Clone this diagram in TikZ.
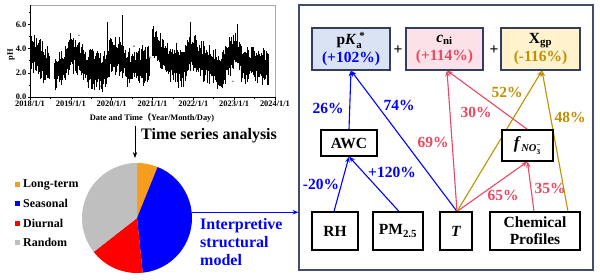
\documentclass[tikz,border=0pt]{standalone}
\usepackage{amsmath}
\usepackage{fontspec}
\setmainfont{Liberation Serif}
\newfontfamily\cjk{Noto Sans CJK SC}
\usetikzlibrary{arrows.meta,backgrounds,calc}
\definecolor{isbl}{RGB}{0,0,255}
\definecolor{isrd}{RGB}{232,72,98}
\definecolor{isgd}{RGB}{191,144,0}
\definecolor{bxbl}{RGB}{218,227,243}
\definecolor{bxrd}{RGB}{252,226,232}
\definecolor{bxgd}{RGB}{255,242,204}
\definecolor{bxln}{RGB}{50,62,92}
\definecolor{frln}{RGB}{64,78,108}
\definecolor{pieor}{RGB}{247,157,30}
\definecolor{piebl}{RGB}{0,0,255}
\definecolor{piered}{RGB}{255,0,0}
\definecolor{piegr}{RGB}{191,191,191}
\begin{document}
\begin{tikzpicture}[x=1pt,y=-1pt,
  bigfont/.style={font=\fontsize{15.5}{18}\selectfont\bfseries},
  topbox/.style={draw=bxln, line width=1.1pt, minimum height=42, inner sep=0pt, align=center, bigfont},
  plainbox/.style={draw=black, fill=white, line width=1.1pt, inner sep=0pt, align=center, bigfont},
  pct/.style={bigfont, inner sep=0pt},
  tick/.style={font=\fontsize{8.4}{9}\selectfont\bfseries, inner sep=1pt},
  leg/.style={font=\fontsize{12}{14}\selectfont\bfseries, anchor=west, inner sep=0pt},
  arr/.style={line width=1.1pt, -{Stealth[length=6pt,width=4.5pt]}}
]
\useasboundingbox (0,0) rectangle (600,279);
\begin{pgfonlayer}{background}
\fill[white] (0,0) rectangle (600,279);
\end{pgfonlayer}

% ---------- time series plot ----------
\pgfmathsetseed{4217}
\begin{scope}[line width=0.55pt]
\foreach \xa/\ma/\xb/\mb in {30/3.9/40/3.2, 40/3.2/49/2.4, 54/2.2/62/2.4, 62/2.4/70/3.7, 70/3.7/78/3.4, 78/3.4/88/2.4, 88/2.4/102/2.0, 102/2.0/110/3.2, 110/3.2/120/3.3, 120/3.3/128/2.5, 128/2.5/149/2.7, 152/4.5/165/3.2, 165/3.2/182/2.3, 182/2.3/190/3.9, 190/3.9/200/3.2, 200/3.2/222/2.1, 222/2.1/230/3.4, 230/3.4/236/4.1, 236/4.1/242/2.8, 242/2.8/268/2.6}{
  \pgfmathtruncatemacro\nn{(\xb-\xa)/0.4}
  \foreach \i in {0,...,\nn}{
    \pgfmathsetmacro\xx{\xa+\i*0.4}
    \pgfmathsetmacro\mm{\ma+(\mb-\ma)*\i*0.4/(\xb-\xa)}
    \pgfmathsetmacro\ra{rnd}
    \pgfmathsetmacro\rb{rnd}
    \pgfmathsetmacro\ylo{97-12.1*(\mm-0.4-0.8*\ra-0.6*\ra^6)}
    \pgfmathsetmacro\yhi{97-12.1*(\mm+0.3+0.8*\rb+0.6*\rb^6)}
    \draw (\xx,\ylo) -- (\xx,\yhi);
  }
}
\foreach \sx/\sm/\sv in {34/4.0/5.1, 70/3.9/5.3, 107/3.4/6.2, 122/3.5/6.8, 153/4.6/5.6, 190/4.0/6.2, 237/4.0/6.0, 176/3.0/4.5}{
  \draw[line width=0.8pt] (\sx,{97-12.1*\sm}) -- (\sx,{97-12.1*\sv});
}
\foreach \dx/\dv in {79/5.1, 134/4.2, 100/0.9, 233/1.3, 150/3.3}{
  \fill (\dx,{97-12.1*\dv}) circle[radius=0.7];
}
\end{scope}
\draw[gray!70, line width=0.6pt] (30,5) -- (275,5) -- (275,97);
\draw[black, line width=0.7pt] (30,5) -- (30,97) -- (275,97);
\foreach \v/\t in {0/0.0, 2/2.0, 4/4.0, 6/6.0}{
  \draw[line width=0.6pt] (30,{97-12.1*\v}) -- (27.5,{97-12.1*\v});
  \node[tick, anchor=east] (yt\v) at (27.5,{97-12.1*\v}) {\t};
}
\foreach \v in {1,3,5,7}{
  \draw[line width=0.5pt] (30,{97-12.1*\v}) -- (28.5,{97-12.1*\v});
}
\foreach \k/\t in {0/2018, 1/2019, 2/2020, 3/2021, 4/2022, 5/2023, 6/2024}{
  \draw[line width=0.6pt] ({30+40.83*\k},97) -- ({30+40.83*\k},99.5);
  \node[tick] (xt\k) at ({30+40.83*\k},104) {\t/1/1};
}
\foreach \k in {0,...,5}{
  \draw[line width=0.5pt] ({50.4+40.83*\k},97) -- ({50.4+40.83*\k},98.5);
}
\node[tick] (xlab) at (152,118) {Date and Time{\cjk （}Year/Month/Day)};
\node[tick, rotate=90] (ylab) at (11,55) {pH};

% ---------- time series analysis arrow ----------
\coordinate (tsa0) at (135,126);
\coordinate (tsa1) at (135,158);
\draw[arr, line width=0.9pt] (tsa0) -- (tsa1);
\node[font=\fontsize{16}{18}\selectfont\bfseries, anchor=west, inner sep=0pt] (tsa) at (141,136) {Time series analysis};

% ---------- pie ----------
\coordinate (pie) at (137,218);
\fill[pieor] (pie) -- ($(pie)+(-90:55)$) arc[start angle=-90, end angle=-68, radius=55] -- cycle;
\fill[piebl] (pie) -- ($(pie)+(-68:55)$) arc[start angle=-68, end angle=84, radius=55] -- cycle;
\fill[piered] (pie) -- ($(pie)+(84:55)$) arc[start angle=84, end angle=142, radius=55] -- cycle;
\fill[piegr] (pie) -- ($(pie)+(142:55)$) arc[start angle=142, end angle=270, radius=55] -- cycle;

\foreach \c/\t/\yy [count=\j] in {pieor/Long-term/184.5, piebl/Seasonal/203.5, piered/Diurnal/223, piegr/Random/242.5}{
  \fill[\c] (15,\yy-2.5) rectangle (20,\yy+2.5);
  \node[leg] (leg\j) at (23,\yy) {\t};
}

\node[font=\fontsize{16}{18}\selectfont\bfseries, text=isbl, align=left, anchor=north west, inner sep=0pt] (ism) at (200,218) {Interpretive\\structural\\model};

% ---------- right panel ----------
\node[draw=frln, line width=1.1pt, minimum width=294, minimum height=265, inner sep=0pt] (frame) at (446,137.5) {};
\coordinate (pieR) at ($(pie)+(-6:55)$);
\draw[arr, isbl, line width=1pt] (pieR) -- (frame.west |- pieR);

\node[topbox, fill=bxbl, minimum width=78] (pka) at (351,49) {p\textit{K}$_{\textbf{a}}^{\;\textbf{*}}$\\\textcolor{isbl}{(+102\%)}};
\node[topbox, fill=bxrd, minimum width=77] (cni) at (444.5,49) {\textit{c}$_{\textbf{ni}}$\\\textcolor{isrd}{(+114\%)}};
\node[topbox, fill=bxgd, minimum width=79] (xgp) at (540.5,49) {X$_{\textbf{gp}}$\\\textcolor{isgd}{(-116\%)}};
\node[bigfont] (plus1) at (398,50) {+};
\node[bigfont] (plus2) at (494,50) {+};

\node[plainbox, minimum width=56, minimum height=26] (awc) at (349,143) {AWC};
\node[plainbox, minimum width=51, minimum height=31] (fno) at (527.5,145.5) {\fontsize{17}{18}\selectfont\textit{f}\kern0.5pt\raisebox{-3pt}{\fontsize{10.5}{10}\selectfont\textbf{\textit{NO}}$_{\textbf{3}}^{\textbf{−}}$}};
\node[plainbox, minimum width=46, minimum height=38] (rh) at (335,231) {RH};
\node[plainbox, minimum width=50, minimum height=38] (pm) at (398,231) {PM$_{\textbf{2.5}}$};
\node[plainbox, minimum width=32, minimum height=38] (tt) at (456,231) {\textit{T}};
\node[plainbox, minimum width=90, minimum height=38, font=\fontsize{15.5}{17}\selectfont\bfseries] (chem) at (535,231) {Chemical\\Profiles};

\begin{pgfonlayer}{background}
\draw[arr, isbl] ([xshift=-1pt]rh.north) -- (awc.south);
\draw[arr, isbl] ([xshift=1pt]pm.north) -- (awc.south);
\draw[arr, isbl] (awc.north) -- ([xshift=0pt]pka.south);
\draw[arr, isbl] ([xshift=1pt]tt.north) -- (pka.south);
\draw[arr, isrd] ([xshift=1pt]tt.north) -- ([xshift=2.5pt]cni.south);
\draw[arr, isrd] ([xshift=1pt]tt.north) -- (fno.south);
\draw[arr, isrd] ([xshift=-1pt]chem.north) -- (fno.south);
\draw[arr, isrd] (fno.north) -- ([xshift=2.5pt]cni.south);
\draw[arr, isgd] ([xshift=1pt]tt.north) -- ([xshift=1.5pt]xgp.south);
\draw[arr, isgd] ([xshift=33pt]chem.north) -- ([xshift=1.5pt]xgp.south);
\end{pgfonlayer}

\node[pct, text=isbl] (l26) at (328,108) {26\%};
\node[pct, text=isbl] (l74) at (399,105) {74\%};
\node[pct, text=isrd] (l30) at (476,112) {30\%};
\node[pct, text=isgd] (l52) at (507,92) {52\%};
\node[pct, text=isgd] (l48) at (570,117) {48\%};
\node[pct, text=isrd] (l69) at (433,142) {69\%};
\node[pct, text=isbl] (l20) at (321,184) {-20\%};
\node[pct, text=isbl] (l120) at (392,172) {+120\%};
\node[pct, text=isrd] (l65) at (503,195) {65\%};
\node[pct, text=isrd] (l35) at (550,188) {35\%};
\end{tikzpicture}
\end{document}
